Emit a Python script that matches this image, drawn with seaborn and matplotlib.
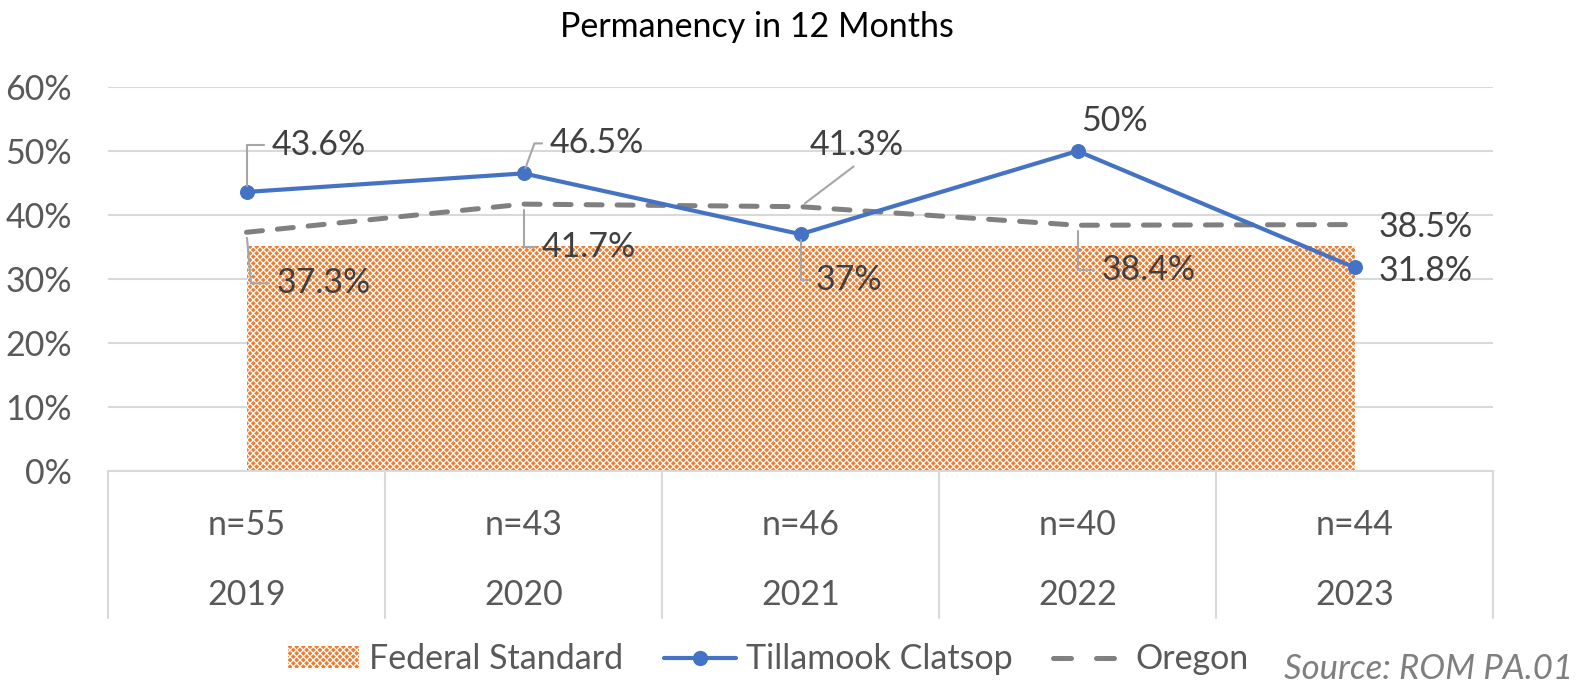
import matplotlib
matplotlib.use("Agg")
import matplotlib.pyplot as plt
import matplotlib.transforms as mtransforms
from matplotlib.lines import Line2D
from matplotlib.patches import Patch
import seaborn as sns
import pandas as pd
import numpy as np

years = ["2019", "2020", "2021", "2022", "2023"]
counts = ["n=55", "n=43", "n=46", "n=40", "n=44"]
tillamook = [43.6, 46.5, 37.0, 50.0, 31.8]
oregon = [37.3, 41.7, 41.3, 38.4, 38.5]
federal = [35.2, 35.2, 35.2, 35.2, 35.2]
till_labels = ["43.6%", "46.5%", "37%", "50%", "31.8%"]
ore_labels = ["37.3%", "41.7%", "41.3%", "38.4%", "38.5%"]

sns.set_theme(style="white")
plt.rcParams['font.family'] = ['Lato', 'DejaVu Sans']
plt.rcParams['hatch.linewidth'] = 0.9

df = pd.DataFrame({"x": np.arange(len(years)), "year": years,
                   "Tillamook Clatsop": np.array(tillamook) / 100,
                   "Oregon": np.array(oregon) / 100,
                   "Federal Standard": np.array(federal) / 100})

fig = plt.figure(figsize=(15.8, 6.9), dpi=100)
ax = fig.add_axes([108 / 1580, (690 - 471) / 690, 1385 / 1580, 384 / 690])

ORANGE = "#ED7D31"
BLUE = "#4472C4"
GRAY = "#808080"
TXT = "#404040"
TICK = "#595959"
FS = 24.5

fed = ax.fill_between(df["x"], 0, df["Federal Standard"], facecolor=ORANGE,
                      edgecolor="white", hatch="xxxxx", linewidth=0,
                      label="Federal Standard", zorder=2)
sns.lineplot(data=df, x="x", y="Tillamook Clatsop", ax=ax, color=BLUE,
             linewidth=3.0, marker="o", markersize=10, markeredgecolor=BLUE,
             label="Tillamook Clatsop", zorder=4, legend=False)
sns.lineplot(data=df, x="x", y="Oregon", ax=ax, color=GRAY, linewidth=3.6,
             label="Oregon", zorder=3, legend=False)
ax.lines[-1].set_dashes([3.2, 3.0])
ax.lines[-1].set_dash_capstyle("round")

ax.set_xlim(-0.5, len(years) - 0.5)
ax.set_ylim(0, 0.6)
yt = np.arange(0, 0.61, 0.1)
ax.set_yticks(yt)
ax.set_yticklabels([f"{int(round(v*100))}%" for v in yt], fontsize=FS, color=TICK)
ax.tick_params(axis="y", length=0, pad=26)
ax.set_xticks([])
ax.set_xlabel("")
ax.set_ylabel("")
ax.grid(axis="y", color="#D9D9D9", linewidth=1.5)
ax.grid(axis="x", visible=False)
for s in ["top", "right", "left"]:
    ax.spines[s].set_visible(False)
ax.spines["bottom"].set_color("#D9D9D9")
ax.spines["bottom"].set_linewidth(1.5)

# multi-level category axis
trans = mtransforms.blended_transform_factory(ax.transData, ax.transAxes)
for b in np.arange(-0.5, len(years), 1.0):
    ax.plot([b, b], [0, -0.383], transform=trans, color="#D9D9D9",
            linewidth=1.5, clip_on=False)
for i, (c, y) in enumerate(zip(counts, years)):
    ax.text(i, -0.14, c, transform=trans, ha="center", va="center",
            fontsize=FS, color=TICK)
    ax.text(i, -0.322, y, transform=trans, ha="center", va="center",
            fontsize=FS, color=TICK)

# data labels (offsets in pixels)
lead = dict(arrowstyle="-", color="#A6A6A6", linewidth=1.5, shrinkA=3, shrinkB=4)
till_off = [(25, 47, "angle,angleA=0,angleB=90"),
            (26, 30, "angle,angleA=0,angleB=70"),
            (15, -46, "angle,angleA=0,angleB=90"),
            (4, 30, None),
            (24, -4, None)]
ore_off = [(30, -51, "angle,angleA=0,angleB=95"),
           (18, -43, "angle,angleA=0,angleB=90"),
           (9, 62, "arc3"),
           (24, -45, "angle,angleA=0,angleB=90"),
           (24, -2, None)]
for vals, labs, offs in [(tillamook, till_labels, till_off),
                         (oregon, ore_labels, ore_off)]:
    for i, (v, lab, (dx, dy, cs)) in enumerate(zip(vals, labs, offs)):
        kw = {}
        if cs is not None:
            ap = dict(lead)
            ap["connectionstyle"] = cs
            ap["relpos"] = (0, 0.5) if cs != "arc3" else (0.55, 0)
            kw["arrowprops"] = ap
        ax.annotate(lab, xy=(i, v / 100), xytext=(dx, dy),
                    textcoords="offset pixels", ha="left", va="center",
                    fontsize=FS, color=TXT, zorder=5, **kw)

fig.text(757 / 1580, 1 - 27 / 690, "Permanency in 12 Months", ha="center",
         va="center", fontsize=24.5, color="black")

h_fed = Patch(facecolor=ORANGE, edgecolor="white", hatch="xxxxx", linewidth=0)
h_till = Line2D([], [], color=BLUE, linewidth=3.0, marker="o", markersize=10)
h_ore = Line2D([], [], color=GRAY, linewidth=3.6, dashes=[3.6, 5.0],
               dash_capstyle="round")
fig.legend(handles=[h_fed, h_till, h_ore],
           labels=["Federal Standard", "Tillamook Clatsop", "Oregon"],
           loc="center", bbox_to_anchor=(768 / 1580, 1 - 659 / 690),
           ncol=3, frameon=False, fontsize=FS, handlelength=2.1,
           handleheight=0.6, columnspacing=1.2, handletextpad=0.3,
           labelcolor=TICK, numpoints=1)

fig.text(1573 / 1580, 1 - 669 / 690, "Source: ROM PA.01", ha="right",
         va="center", fontsize=25, style="italic", color="#7F7F7F")

fig.savefig("out.png", dpi=100)
